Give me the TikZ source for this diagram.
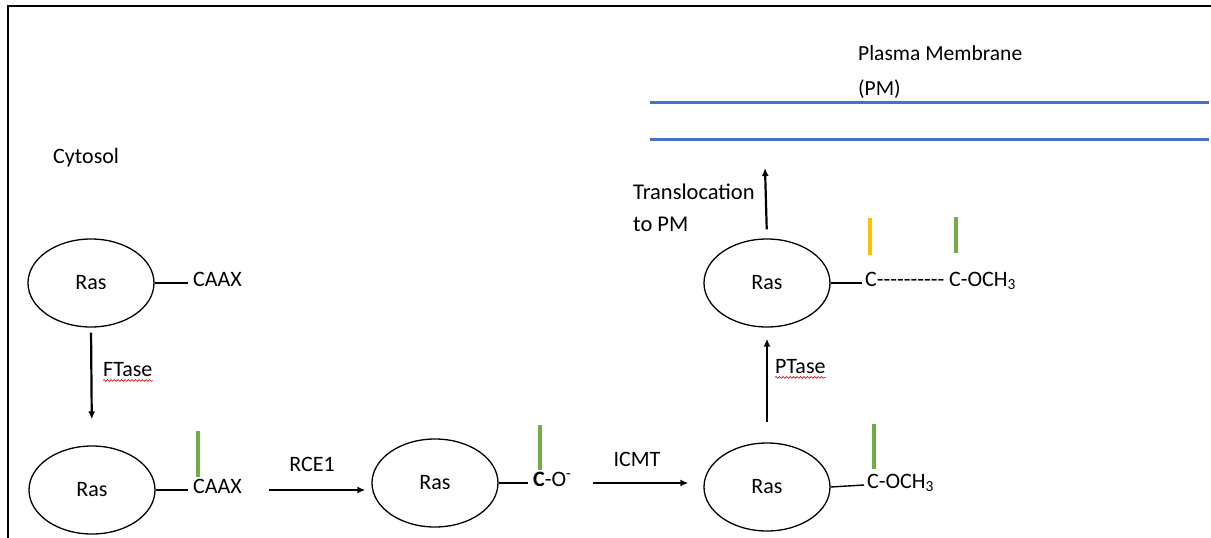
\documentclass[tikz,border=0pt]{standalone}
\usepackage{fontspec}
\setmainfont{Carlito}
\usetikzlibrary{shapes.geometric,arrows.meta,decorations.pathmorphing}
\definecolor{pmblue}{HTML}{4472C4}
\definecolor{farnesyl}{HTML}{70AD47}
\definecolor{palmitoyl}{HTML}{FFC000}
\tikzset{
  ras/.style={draw, ellipse, line width=1.3pt, minimum width=126pt, minimum height=88pt, inner sep=0pt},
  lbl/.style={inner sep=0pt, anchor=west, text height=0.644em, text depth=0pt},
  tether/.style={line width=1.4pt},
  flow/.style={line width=2.2pt, -{Latex[length=8pt,width=7pt]}},
  lipid/.style={line width=4pt},
  membrane/.style={line width=3pt, draw=pmblue},
  squiggle/.style={draw=red!85!black, line width=0.6pt, decorate,
                   decoration={snake, amplitude=0.9pt, segment length=3.5pt}}
}
\begin{document}
\begin{tikzpicture}[x=1pt, y=-1pt, font=\fontsize{22}{26}\selectfont]
\useasboundingbox (0,0) rectangle (1211,538);

% frame
\draw[line width=2.8pt] (8,538) -- (8,6) -- (1211,6);

% plasma membrane
\draw[membrane] (650,102) -- (1209,102);
\draw[membrane] (650,139) -- (1209,139);
\node[anchor=north west, inner sep=0pt, align=left, font=\fontsize{21.5}{35}\selectfont]
  (pmlabel) at (858,45) {Plasma Membrane\\(PM)};

\node[lbl] (cyto) at (53,160) {Cytosol};

% Ras with free CAAX
\node[ras] (r1) at (91,283) {Ras};
\node[lbl] (s1) at (193,283) {CAAX};
\draw[tether] (r1.east) -- ([xshift=-5pt]s1.west);

% farnesylated CAAX
\node[ras] (r2) at (92,490) {Ras};
\node[lbl] (s2) at (193,490) {CAAX};
\draw[tether] (r2.east) -- ([xshift=-5pt]s2.west);
\draw[lipid, farnesyl] (198,431) -- (198,477);

\draw[flow, shorten <=5pt, shorten >=26pt] (r1.south) -- (r2.north);
\node[lbl] (ftase) at (103,373) {FTase};
\draw[squiggle] ([yshift=-4pt]ftase.south west) -- ([yshift=-4pt]ftase.south east);

% cleaved by RCE1
\node[ras] (r3) at (435,483) {Ras};
\node[lbl] (s3) at (533,483) {\textbf{C}-O\textsuperscript{-}};
\draw[tether] (r3.east) -- ([xshift=-5pt]s3.west);
\draw[lipid, farnesyl] (540,425) -- (540,470);

\draw[flow] ([xshift=27pt]s2.east) -- ([xshift=-6pt]s2.east -| r3.west);
\node[inner sep=0pt, text height=0.644em, text depth=0pt] (rce) at (312,468) {RCE1};

% methylated by ICMT
\node[ras] (r4) at (767,487) {Ras};
\node[lbl] (s4) at (867,485) {C-OCH\textsubscript{3}};
\draw[tether] (r4.east) -- ([xshift=-3pt]s4.west);
\draw[lipid, farnesyl] (874,424) -- (874,469);

\draw[flow] ([xshift=21pt]s3.east) -- ([xshift=-15pt]s3.east -| r4.west);
\node[inner sep=0pt, text height=0.644em, text depth=0pt] (icmt) at (637,463) {ICMT};

% palmitoylated by PTase
\node[ras] (r5) at (767,283) {Ras};
\node[lbl] (s5) at (865,283) {C{-}{-}{-}{-}{-}{-}{-}{-}{-}{-} C-OCH\textsubscript{3}};
\draw[tether] (r5.east) -- ([xshift=-3pt]s5.west);
\draw[lipid, palmitoyl] (870,218) -- (870,255);
\draw[lipid, farnesyl] (956,217) -- (956,253);

\draw[flow, shorten <=20pt, shorten >=11pt] (r4.north) -- (r5.south);
\node[lbl] (ptase) at (775,370) {PTase};
\draw[squiggle] ([yshift=-4pt]ptase.south west) -- ([yshift=-4pt]ptase.south east);

% translocation to the membrane
\coordinate (pmtarget) at (765,168);
\draw[flow, shorten <=9pt] (r5.north) -- (pmtarget);
\node[anchor=north west, inner sep=0pt, align=left, font=\fontsize{22.5}{32}\selectfont]
  (trans) at (633,184) {Translocation\\to PM};
\end{tikzpicture}
\end{document}
